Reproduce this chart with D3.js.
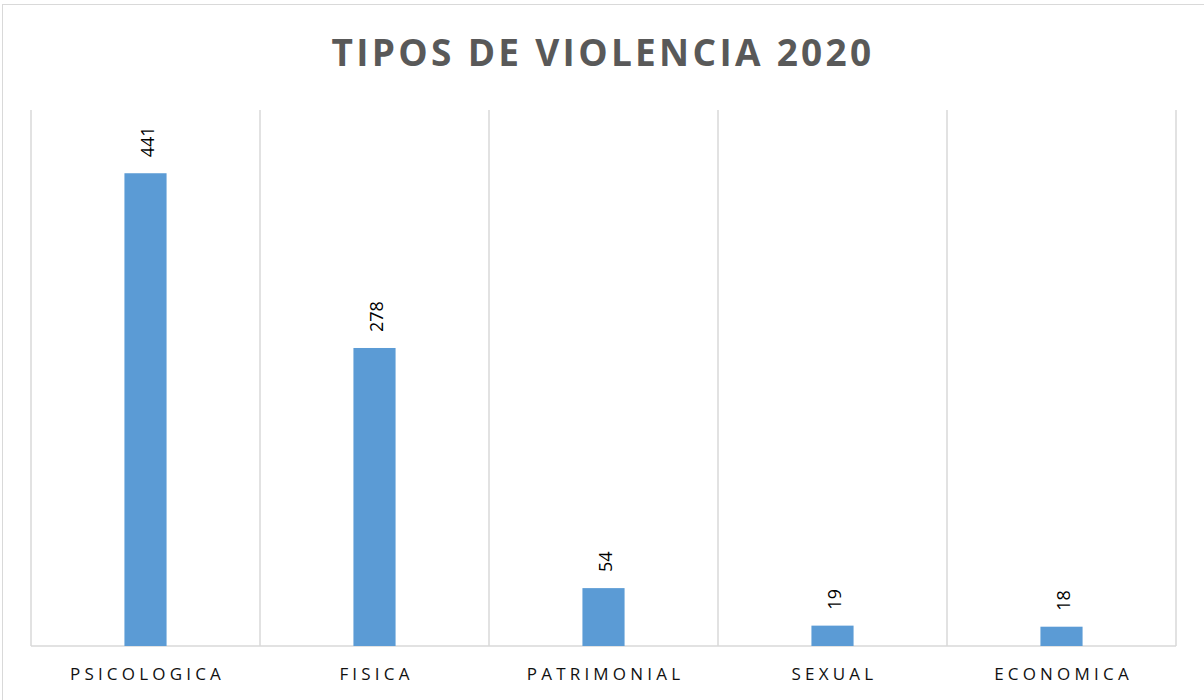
<!DOCTYPE html>
<html lang="es">
<head>
  <meta charset="UTF-8">
  <title>Tipos de violencia 2020</title>
  <script src="https://d3js.org/d3.v7.min.js"></script>
  <style>
    body { margin: 0; background: #fff; }
  </style>
</head>
<body>
  <div id="chart"></div>
  <script type="text/javascript">
    var categories = ["PSICOLOGICA", "FISICA", "PATRIMONIAL", "SEXUAL", "ECONOMICA"];
    var values = [441, 278, 54, 19, 18];
    var yMax = 500;
    var title = "TIPOS DE VIOLENCIA 2020";

    var width = 1204, height = 700;
    var plot = { left: 31, right: 1176, top: 110, bottom: 646 };

    var svg = d3.select("#chart").append("svg")
      .attr("width", width)
      .attr("height", height);

    // outer chart border (right/bottom fall outside the window)
    svg.append("rect")
      .attr("x", 2.5).attr("y", 4.5)
      .attr("width", 1300).attr("height", 800)
      .attr("fill", "none")
      .attr("stroke", "#d9d9d9");

    var x = d3.scaleBand()
      .domain(categories)
      .range([plot.left, plot.right])
      .padding(0);

    var y = d3.scaleLinear()
      .domain([0, yMax])
      .range([plot.bottom, plot.top]);

    var barW = x.bandwidth() * 0.184;

    // vertical gridlines at category borders
    var borders = categories.map(function (c) { return x(c); }).concat([plot.right]);
    svg.selectAll("line.grid")
      .data(borders)
      .enter()
      .append("line")
        .attr("class", "grid")
        .attr("x1", function (d) { return d; })
        .attr("x2", function (d) { return d; })
        .attr("y1", y(yMax))
        .attr("y2", y(0))
        .attr("stroke", "#d9d9d9")
        .attr("stroke-width", 1.5);

    // baseline
    svg.append("line")
      .attr("x1", plot.left).attr("x2", plot.right)
      .attr("y1", y(0)).attr("y2", y(0))
      .attr("stroke", "#d9d9d9")
      .attr("stroke-width", 1.5);

    // bars
    svg.selectAll("rect.bar")
      .data(values)
      .enter()
      .append("rect")
        .attr("class", "bar")
        .attr("x", function (d, i) { return x(categories[i]) + x.bandwidth() / 2 - barW / 2; })
        .attr("y", function (d) { return y(d); })
        .attr("width", barW)
        .attr("height", function (d) { return y(0) - y(d); })
        .attr("fill", "#5b9bd5");

    // rotated value labels
    svg.selectAll("text.val")
      .data(values)
      .enter()
      .append("text")
        .attr("class", "val")
        .attr("transform", function (d, i) {
          var cx = x(categories[i]) + x.bandwidth() / 2 + 8;
          return "translate(" + cx + "," + (y(d) - 16) + ") rotate(-90)";
        })
        .style("font-family", "'Open Sans', sans-serif")
        .style("font-size", "18px")
        .style("fill", "#000")
        .text(function (d) { return d; });

    // category labels
    svg.selectAll("text.cat")
      .data(categories)
      .enter()
      .append("text")
        .attr("class", "cat")
        .attr("x", function (d) { return x(d) + x.bandwidth() / 2 + 2; })
        .attr("y", 680)
        .attr("text-anchor", "middle")
        .style("font-family", "'Open Sans', sans-serif")
        .style("font-size", "17px")
        .style("letter-spacing", "4.2px")
        .style("fill", "#111")
        .text(function (d) { return d; });

    // title
    svg.append("text")
      .attr("x", 603)
      .attr("y", 66)
      .attr("text-anchor", "middle")
      .style("font-family", "'Open Sans', sans-serif")
      .style("font-weight", "bold")
      .style("font-size", "37px")
      .style("letter-spacing", "3.3px")
      .style("fill", "#595959")
      .text(title);
  </script>
</body>
</html>
